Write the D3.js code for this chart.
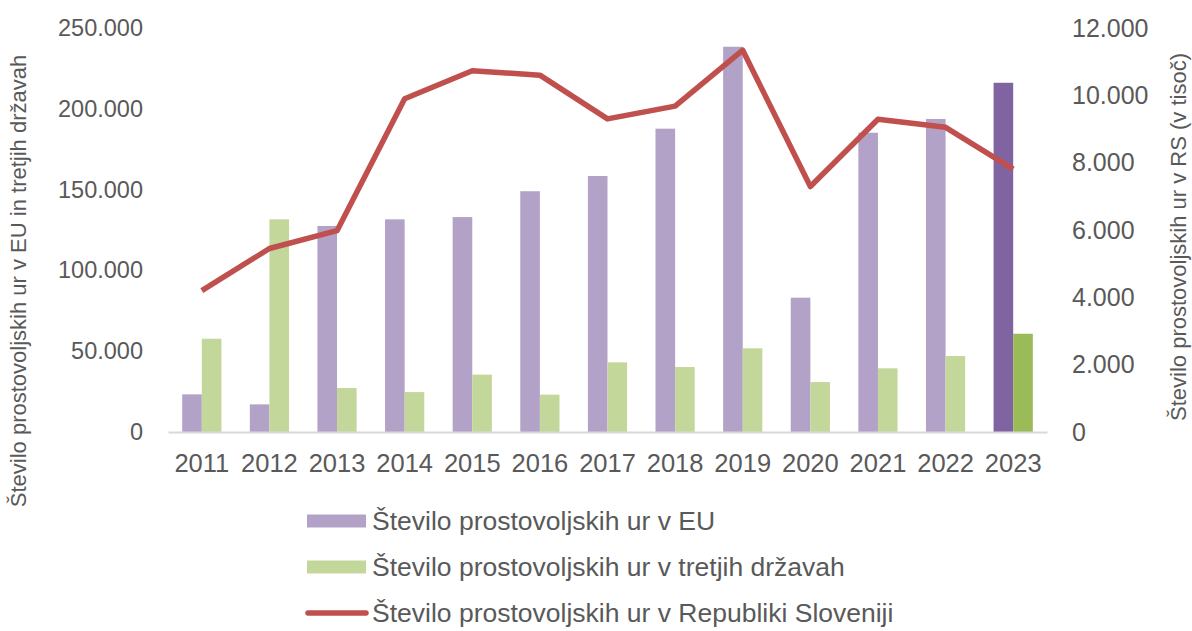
<!DOCTYPE html>
<html>
<head>
<meta charset="utf-8">
<script src="https://cdn.jsdelivr.net/npm/d3@7/dist/d3.min.js"></script>
<style>
  body { margin: 0; background: #fff; }
  svg { display: block; }
  text { font-family: "Liberation Sans", Arial, sans-serif; fill: #595959; }
</style>
</head>
<body>
<svg id="chart" width="1192" height="631"></svg>
<script>
const years = ["2011","2012","2013","2014","2015","2016","2017","2018","2019","2020","2021","2022","2023"];
const euHours = [23300, 17100, 127500, 131600, 133000, 149000, 158400, 187700, 238400, 83100, 185200, 193700, 216100];
const thirdHours = [57700, 131600, 27200, 24700, 35500, 23100, 43100, 40200, 51800, 30900, 39400, 47000, 60800];
const rsHours = [4200, 5450, 5980, 9900, 10730, 10600, 9300, 9680, 11340, 7290, 9290, 9050, 7810];
const leftTicks = [0, 50000, 100000, 150000, 200000, 250000];
const rightTicks = [0, 2000, 4000, 6000, 8000, 10000, 12000];
const legendLabels = [
  "Število prostovoljskih ur v EU",
  "Število prostovoljskih ur v tretjih državah",
  "Število prostovoljskih ur v Republiki Sloveniji"
];
const leftTitle = "Število prostovoljskih ur v EU in tretjih državah";
const rightTitle = "Število prostovoljskih ur v RS (v tisoč)";

const colEU = "#b3a2c7", colEUlast = "#8064a2";
const colTh = "#c4d79b", colThlast = "#9bbb59";
const colLine = "#c0504d";

const svg = d3.select("#chart");
const m = {left: 168, right: 1047, top: 28, bottom: 432};

const locale = d3.formatLocale({decimal: ",", thousands: ".", grouping: [3], currency: ["", ""]});
const fmt = locale.format(",d");

const x = d3.scaleBand().domain(years).range([m.left, m.right]).paddingInner(0).paddingOuter(0);
const yL = d3.scaleLinear().domain([0, 250000]).range([m.bottom, m.top]);
const yR = d3.scaleLinear().domain([0, 12000]).range([m.bottom, m.top]);
const bw = x.bandwidth() * 0.29;

// bars
const g = svg.append("g");
g.selectAll("rect.eu").data(years).join("rect")
  .attr("class", "eu")
  .attr("x", d => x(d) + x.bandwidth() / 2 - bw)
  .attr("width", bw)
  .attr("y", (d, i) => yL(euHours[i]))
  .attr("height", (d, i) => yL(0) - yL(euHours[i]))
  .attr("fill", (d, i) => i === years.length - 1 ? colEUlast : colEU);
g.selectAll("rect.th").data(years).join("rect")
  .attr("class", "th")
  .attr("x", d => x(d) + x.bandwidth() / 2)
  .attr("width", bw)
  .attr("y", (d, i) => yL(thirdHours[i]))
  .attr("height", (d, i) => yL(0) - yL(thirdHours[i]))
  .attr("fill", (d, i) => i === years.length - 1 ? colThlast : colTh);

// x axis
const xAxis = svg.append("g").attr("transform", `translate(0,${m.bottom})`)
  .call(d3.axisBottom(x).tickSize(0).tickPadding(22));
xAxis.select(".domain").attr("stroke", "#d9d9d9").attr("stroke-width", 2);
xAxis.selectAll("text").attr("font-size", 25.5).style("font-family", "Liberation Sans, Arial, sans-serif").attr("fill", "#595959");

// left axis
const lAxis = svg.append("g").attr("transform", `translate(${m.left - 25},0)`)
  .call(d3.axisLeft(yL).tickValues(leftTicks).tickFormat(fmt).tickSize(0).tickPadding(0));
lAxis.select(".domain").remove();
lAxis.selectAll("text").attr("font-size", 23.5).style("font-family", "Liberation Sans, Arial, sans-serif").attr("fill", "#595959");

// right axis
const rAxis = svg.append("g").attr("transform", `translate(${m.right + 25},0)`)
  .call(d3.axisRight(yR).tickValues(rightTicks).tickFormat(fmt).tickSize(0).tickPadding(0));
rAxis.select(".domain").remove();
rAxis.selectAll("text").attr("font-size", 25).style("font-family", "Liberation Sans, Arial, sans-serif").attr("fill", "#595959");

// line
const line = d3.line()
  .x((d, i) => x(years[i]) + x.bandwidth() / 2)
  .y(d => yR(d));
svg.append("path").datum(rsHours)
  .attr("d", line)
  .attr("fill", "none")
  .attr("stroke", colLine)
  .attr("stroke-width", 5.5)
  .attr("stroke-linejoin", "round");

// axis titles
svg.append("text")
  .attr("transform", "translate(26,281) rotate(-90)")
  .attr("text-anchor", "middle")
  .attr("font-size", 22)
  .text(leftTitle);
svg.append("text")
  .attr("transform", "translate(1186,237) rotate(-90)")
  .attr("text-anchor", "middle")
  .attr("font-size", 22)
  .text(rightTitle);

// legend
const lg = svg.append("g");
const ly = [521, 567, 613];
legendLabels.forEach((t, i) => {
  if (i < 2) {
    lg.append("rect").attr("x", 307).attr("y", ly[i] - 6.5).attr("width", 59).attr("height", 13)
      .attr("fill", i === 0 ? colEU : colTh);
  } else {
    lg.append("line").attr("x1", 308).attr("x2", 366).attr("y1", ly[i]).attr("y2", ly[i])
      .attr("stroke", colLine).attr("stroke-width", 5.5).attr("stroke-linecap", "round");
  }
  lg.append("text").attr("x", 372).attr("y", ly[i]).attr("dy", "0.35em")
    .attr("font-size", 26.5).text(t);
});
</script>
</body>
</html>
